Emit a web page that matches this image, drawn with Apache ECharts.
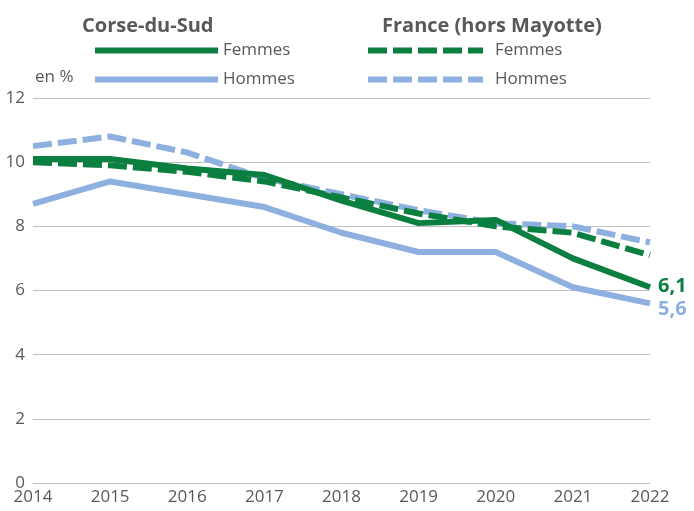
<!DOCTYPE html>
<html>
<head>
<meta charset="utf-8">
<script src="https://cdn.jsdelivr.net/npm/echarts@6/dist/echarts.min.js"></script>
<style>
  html, body { margin: 0; padding: 0; background: #fff; }
  #chart { width: 694px; height: 511px; }
</style>
</head>
<body>
<div id="chart"></div>
<script>
// années
var years = ['2014', '2015', '2016', '2017', '2018', '2019', '2020', '2021', '2022'];
// Corse-du-Sud
var corseFemmes = [10.1, 10.1, 9.8, 9.6, 8.8, 8.1, 8.2, 7.0, 6.1];
var corseHommes = [8.7, 9.4, 9.0, 8.6, 7.8, 7.2, 7.2, 6.1, 5.6];
// France (hors Mayotte)
var franceFemmes = [10.0, 9.9, 9.7, 9.4, 8.9, 8.4, 8.0, 7.8, 7.1];
var franceHommes = [10.5, 10.8, 10.3, 9.5, 9.0, 8.5, 8.1, 8.0, 7.5];

var vert = '#0A7F3F';
var bleu = '#8EB0E0';
var gris = '#595959';
var police = '"Open Sans", sans-serif';

var myChart = echarts.init(document.getElementById('chart'));

function endLab(color, off) {
  return {
    show: true,
    distance: 8,
    offset: off,
    color: color,
    fontFamily: police,
    fontSize: 20,
    fontWeight: 'bold',
    formatter: function (p) { return String(p.value).replace('.', ','); }
  };
}

// légende commune : trait épais, sans symbole
function leg(data, left, width, pad) {
  return {
    data: data, orient: 'vertical', left: left, top: 42, padding: 0,
    itemWidth: width, itemHeight: 12, itemGap: 12,
    itemStyle: { color: 'transparent', borderWidth: 0, opacity: 0 },
    lineStyle: { width: 6 },
    formatter: function (n) { return n.charAt(1) === 'f' ? 'Femmes' : 'Hommes'; },
    textStyle: { color: gris, fontFamily: police, fontSize: 17, padding: [0, 0, 0, pad] }
  };
}

var option = {
  animation: false,
  title: [
    { text: 'Corse-du-Sud', left: 77, top: 11,
      textStyle: { color: gris, fontFamily: police, fontSize: 20, fontWeight: 'bold' } },
    { text: 'France (hors Mayotte)', left: 377, top: 11,
      textStyle: { color: gris, fontFamily: police, fontSize: 20, fontWeight: 'bold' } }
  ],
  legend: [
    leg(['cf', 'ch'], 92, 123, 0),
    leg(['ff', 'fh'], 365, 115, 7)
  ],
  grid: { left: 33, right: 44, top: 98, bottom: 28, containLabel: false },
  xAxis: {
    type: 'category',
    boundaryGap: false,
    data: years,
    axisLine: { show: false },
    axisTick: { show: false },
    axisLabel: { color: gris, fontFamily: police, fontSize: 17, margin: 6 }
  },
  yAxis: {
    type: 'value',
    min: 0, max: 12, interval: 2,
    name: 'en %',
    nameLocation: 'end',
    nameGap: 12,
    nameTextStyle: { color: gris, fontFamily: police, fontSize: 17, align: 'left', padding: [0, 0, 0, 2] },
    axisLine: { show: false },
    axisTick: { show: false },
    axisLabel: { color: gris, fontFamily: police, fontSize: 17, margin: 8 },
    splitLine: { lineStyle: { color: '#BFBFBF', width: 1 } }
  },
  series: [
    { name: 'fh', type: 'line', data: franceHommes, symbol: 'none',
      lineStyle: { color: bleu, width: 6, type: [19, 6] }, itemStyle: { color: bleu } },
    { name: 'ff', type: 'line', data: franceFemmes, symbol: 'none',
      lineStyle: { color: vert, width: 6, type: [19, 6] }, itemStyle: { color: vert } },
    { name: 'ch', type: 'line', data: corseHommes, symbol: 'none',
      lineStyle: { color: bleu, width: 6 }, itemStyle: { color: bleu },
      endLabel: endLab(bleu, [0, 6]) },
    { name: 'cf', type: 'line', data: corseFemmes, symbol: 'none',
      lineStyle: { color: vert, width: 6 }, itemStyle: { color: vert },
      endLabel: endLab(vert, [0, -1]) }
  ]
};
myChart.setOption(option);
</script>
</body>
</html>
